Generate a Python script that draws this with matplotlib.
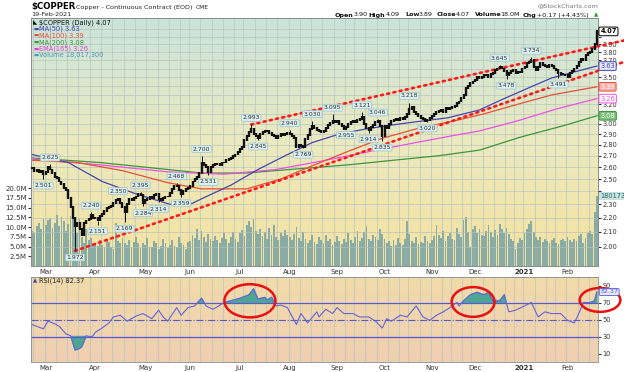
import numpy as np
import pandas as pd
import matplotlib
matplotlib.use('Agg')
import matplotlib.pyplot as plt
from matplotlib.colors import LinearSegmentedColormap
from matplotlib.patches import Ellipse
from matplotlib.transforms import blended_transform_factory
from matplotlib.ticker import FixedLocator, NullLocator, FuncFormatter
from pandas.tseries.holiday import USFederalHolidayCalendar

# daily closes, one list per month (21-Feb-2020 .. 19-Feb-2021)
close_2020_02 = [2.59, 2.57, 2.58, 2.56, 2.57, 2.54]
close_2020_03 = [2.56, 2.60, 2.58, 2.55, 2.52, 2.51, 2.48, 2.46, 2.43, 2.41, 2.35, 2.28, 2.20, 2.14, 2.16,
                 2.12, 2.08, 2.16, 2.18, 2.19, 2.22, 2.20]
close_2020_04 = [2.20, 2.18, 2.21, 2.23, 2.25, 2.27, 2.28, 2.29, 2.31, 2.33, 2.34, 2.31, 2.28, 2.24, 2.30,
                 2.34, 2.33, 2.35, 2.36, 2.38, 2.37, 2.31]
close_2020_05 = [2.33, 2.34, 2.36, 2.35, 2.37, 2.38, 2.34, 2.33, 2.35, 2.36, 2.36, 2.39, 2.42, 2.44, 2.44,
                 2.41, 2.38, 2.40, 2.42, 2.43]
close_2020_06 = [2.44, 2.48, 2.50, 2.52, 2.55, 2.64, 2.62, 2.60, 2.56, 2.60, 2.62, 2.63, 2.63, 2.62, 2.64,
                 2.64, 2.66, 2.67, 2.68, 2.70, 2.71, 2.73]
close_2020_07 = [2.76, 2.78, 2.84, 2.88, 2.92, 2.95, 2.90, 2.88, 2.86, 2.90, 2.92, 2.93, 2.93, 2.91, 2.89,
                 2.88, 2.86, 2.88, 2.90, 2.89, 2.90, 2.91]
close_2020_08 = [2.90, 2.88, 2.86, 2.78, 2.80, 2.79, 2.78, 2.85, 2.89, 2.95, 2.98, 2.96, 2.94, 2.93, 2.92,
                 2.93, 2.96, 2.99, 3.01, 3.03, 3.02]
close_2020_09 = [3.03, 3.00, 2.98, 2.95, 2.97, 3.00, 3.02, 3.03, 3.02, 3.04, 3.05, 3.07, 3.00, 2.96, 2.94,
                 2.97, 2.99, 3.02, 3.03, 2.98, 2.88]
close_2020_10 = [2.98, 2.96, 3.00, 3.03, 3.04, 3.05, 3.04, 3.06, 3.05, 3.07, 3.10, 3.15, 3.17, 3.12, 3.10,
                 3.08, 3.06, 3.05, 3.03, 3.04, 3.06]
close_2020_11 = [3.08, 3.10, 3.12, 3.13, 3.14, 3.12, 3.16, 3.15, 3.16, 3.17, 3.18, 3.21, 3.23, 3.27, 3.30,
                 3.38, 3.40, 3.43, 3.45]
close_2020_12 = [3.47, 3.50, 3.49, 3.50, 3.52, 3.52, 3.50, 3.54, 3.55, 3.58, 3.60, 3.62, 3.60, 3.57, 3.52,
                 3.55, 3.57, 3.58, 3.55, 3.56, 3.56, 3.60]
close_2021_01 = [3.62, 3.67, 3.68, 3.70, 3.62, 3.58, 3.62, 3.67, 3.64, 3.63, 3.62, 3.64, 3.63, 3.60, 3.58,
                 3.55, 3.54, 3.53, 3.52]
close_2021_02 = [3.50, 3.55, 3.57, 3.60, 3.63, 3.68, 3.72, 3.70, 3.76, 3.79, 3.80, 3.84, 3.90, 4.07]

# daily volume, millions
vol_2020_02 = [9.0, 8.5, 10.2, 11.0, 9.5, 12.0]
vol_2020_03 = [10.5, 11.8, 12.3, 9.8, 11.0, 13.0, 10.2, 12.5, 11.5, 9.0, 10.8, 12.8, 14.0, 11.2, 8.5, 12.0,
               7.5, 6.0, 9.5, 6.8, 7.2, 5.5]
vol_2020_04 = [6.0, 5.2, 6.8, 5.5, 4.8, 7.0, 6.2, 5.0, 4.5, 11.0, 6.5, 5.8, 7.2, 6.0, 5.5, 6.8, 4.9, 6.2,
               7.4, 5.8, 4.6, 6.0]
vol_2020_05 = [5.5, 7.2, 5.0, 4.8, 6.5, 5.8, 4.4, 5.2, 7.0, 6.0, 4.6, 5.5, 6.8, 5.2, 4.8, 7.5, 6.0, 5.4,
               4.5, 6.2]
vol_2020_06 = [6.5, 8.0, 7.2, 9.5, 6.8, 9.0, 7.5, 6.2, 8.2, 7.0, 6.4, 7.8, 6.6, 5.8, 7.2, 8.4, 6.9, 6.0,
               7.5, 8.8, 7.0, 6.3]
vol_2020_07 = [8.5, 9.2, 7.8, 10.5, 11.5, 10.0, 12.2, 9.0, 8.2, 9.5, 7.6, 8.8, 7.0, 9.8, 8.0, 10.5, 7.4,
               6.8, 8.6, 7.8, 9.2, 8.0]
vol_2020_08 = [7.5, 6.8, 8.2, 10.0, 7.2, 6.5, 8.8, 7.0, 5.8, 6.6, 7.9, 6.2, 5.6, 7.4, 6.8, 5.9, 8.1, 6.4,
               7.0, 5.5, 6.2]
vol_2020_09 = [7.8, 6.4, 5.6, 7.0, 6.2, 8.4, 6.8, 5.8, 7.5, 9.0, 6.5, 7.2, 8.8, 10.2, 7.0, 6.5, 8.0, 7.4,
               6.6, 9.5, 8.2]
vol_2020_10 = [7.0, 5.8, 6.5, 5.2, 6.8, 5.5, 7.2, 6.0, 5.4, 6.9, 11.5, 8.2, 6.5, 6.0, 7.4, 5.6, 6.2, 5.8,
               7.6, 6.4, 5.9]
vol_2020_11 = [6.8, 7.6, 10.5, 8.0, 7.2, 9.0, 6.5, 7.8, 8.5, 7.0, 6.6, 9.8, 8.2, 7.5, 11.8, 12.5, 8.8,
               5.0, 9.6]
vol_2020_12 = [10.2, 8.5, 9.4, 8.0, 7.6, 9.0, 10.5, 8.8, 7.4, 9.2, 8.0, 10.8, 9.6, 8.4, 9.9, 8.2, 7.0,
               6.5, 4.5, 6.0, 7.2, 6.8]
vol_2021_01 = [8.5, 9.6, 10.8, 11.5, 8.8, 7.5, 6.8, 7.4, 6.2, 7.0, 6.5, 5.8, 6.6, 7.2, 6.0, 5.6, 6.8,
               7.0, 6.4]
vol_2021_02 = [7.5, 6.8, 6.2, 7.0, 6.5, 7.8, 8.2, 6.0, 7.2, 8.4, 9.0, 8.2, 14.0, 18.0]

# last bar
last_open, last_high, last_low, last_close = 3.90, 4.09, 3.89, 4.07
last_chg, last_chg_pct = 0.17, 4.43
last_volume = 18017300

# moving averages (bar index, value)
ma50_idx = [0, 16, 31, 46, 61, 70, 76, 88, 100, 112, 124, 136, 148, 160, 170, 184, 198, 208, 220, 230, 240, 250]
ma50_val = [2.71, 2.64, 2.48, 2.38, 2.30, 2.30, 2.35, 2.45, 2.58, 2.70, 2.82, 2.90, 2.95, 2.99, 3.02, 3.06,
            3.14, 3.25, 3.38, 3.49, 3.56, 3.63]
ma100_idx = [0, 20, 40, 60, 75, 95, 110, 125, 140, 155, 170, 189, 200, 215, 230, 250]
ma100_val = [2.66, 2.64, 2.57, 2.47, 2.42, 2.42, 2.50, 2.62, 2.74, 2.86, 2.95, 3.04, 3.10, 3.20, 3.30, 3.39]
ema165_idx = [0, 30, 60, 85, 108, 130, 150, 170, 185, 198, 215, 232, 250]
ema165_val = [2.67, 2.62, 2.56, 2.54, 2.58, 2.66, 2.74, 2.82, 2.88, 2.93, 3.03, 3.15, 3.26]
ma200_idx = [0, 30, 60, 75, 95, 114, 140, 160, 180, 198, 216, 235, 250]
ma200_val = [2.68, 2.64, 2.58, 2.55, 2.55, 2.58, 2.62, 2.66, 2.70, 2.75, 2.87, 2.98, 3.08]

# RSI(14)
rsi_idx = [0, 3, 5, 7, 10, 12, 15, 17, 18, 19, 21, 22, 24, 26, 27, 28, 31, 34, 36, 39, 42, 46, 49, 53,
           56, 58, 60, 64, 66, 69, 72, 75, 77, 80, 82, 85, 88, 92, 96, 98, 100, 103, 104, 106, 108, 110,
           113, 117, 119, 122, 126, 127, 130, 133, 135, 138, 142, 145, 149, 152, 155, 157, 159, 163, 166,
           170, 173, 176, 179, 182, 185, 188, 189, 191, 194, 197, 200, 202, 204, 207, 209, 211, 214, 218,
           221, 224, 227, 230, 234, 237, 240, 242, 244, 247, 249, 250]
rsi_val = [44, 41, 39, 48, 45, 42, 33, 31, 23, 14, 16, 18, 31, 29, 31, 35, 40, 46, 53, 55, 48, 54, 57, 51,
           61, 53, 48, 64, 55, 64, 66, 75, 66, 62, 65, 70, 72, 75, 79, 86, 74, 76, 73, 76, 66, 67,
           64, 44, 57, 46, 59, 53, 62, 57, 64, 57, 57, 53, 53, 48, 40, 51, 48, 55, 53,
           66, 53, 49, 55, 59, 64, 70, 66, 72, 79, 82, 79, 82, 72, 72, 79, 59, 61, 66,
           70, 53, 59, 57, 57, 49, 46, 57, 70, 70, 72, 82.37]

# swing high / low annotations (bar index, price, 1 = above)
lab_idx = [5, 8, 19, 26, 29, 38, 41, 48, 49, 56, 64, 66, 75, 78, 97, 100, 114, 120, 124, 133, 139, 146,
           149, 153, 155, 167, 175, 207, 210, 221, 233]
lab_val = [2.501, 2.625, 1.972, 2.240, 2.151, 2.350, 2.169, 2.395, 2.284, 2.314, 2.468, 2.359, 2.700,
           2.531, 2.993, 2.845, 2.940, 2.769, 3.030, 3.095, 2.955, 3.121, 2.914, 3.046, 2.835, 3.218,
           3.020, 3.645, 3.478, 3.734, 3.491]
lab_up = [0, 1, 0, 1, 0, 1, 0, 1, 0, 0, 1, 0, 1, 0, 1, 0, 1, 0, 1, 1, 0, 1, 0, 1, 0, 1, 0, 1, 0, 1, 0]

# trendlines (bar index, price)
trend_upper = [(97, 2.993), (262, 3.95)]
trend_lower = [(19, 1.972), (262, 3.68)]

# red circles on the RSI panel (centre index, centre rsi, width in bars, height)
circles = [(96.4, 72, 22.6, 39), (195.2, 70.6, 19, 35), (251.4, 73, 18, 28)]

closes = np.array(close_2020_02 + close_2020_03 + close_2020_04 + close_2020_05 + close_2020_06 +
                  close_2020_07 + close_2020_08 + close_2020_09 + close_2020_10 + close_2020_11 +
                  close_2020_12 + close_2021_01 + close_2021_02)
volume = np.array(vol_2020_02 + vol_2020_03 + vol_2020_04 + vol_2020_05 + vol_2020_06 + vol_2020_07 +
                  vol_2020_08 + vol_2020_09 + vol_2020_10 + vol_2020_11 + vol_2020_12 + vol_2021_01 +
                  vol_2021_02)
n = len(closes)
x = np.arange(n)
opens = np.r_[closes[0], closes[:-1]]
hol = USFederalHolidayCalendar().holidays('2019-01-01', '2021-12-31')
dates = pd.bdate_range(end='2021-02-19', periods=n, freq='C', holidays=hol)

W, H = 624.0, 372.0
L, R = 31, 598
MT, MB = 18, 266
RT, RB = 277, 362
PLO, PHI = 1.876, 4.254
VMAX = 63.8

fig = plt.figure(figsize=(6.24, 3.72), dpi=100, facecolor='white')
plt.rcParams['font.family'] = ['DejaVu Sans']
ax = fig.add_axes([L / W, 1 - MB / H, (R - L) / W, (MB - MT) / H])
axp = ax.twinx()
axr = fig.add_axes([L / W, 1 - RB / H, (R - L) / W, (RB - RT) / H])


def ftext(px, py, s, **kw):
    kw.setdefault('va', 'center')
    fig.text(px / W, 1 - py / H, s, **kw)


def gradient(a, colors):
    cmap = LinearSegmentedColormap.from_list('g', colors)
    a.imshow(np.linspace(0, 1, 200).reshape(-1, 1), cmap=cmap, aspect='auto', origin='lower',
             extent=[0, 1, 0, 1], transform=a.transAxes, zorder=0)


def price_px(p):
    return MT + np.log(PHI / p) / np.log(PHI / PLO) * (MB - MT)


gradient(ax, ['#f5e2a0', '#ebeac0', '#cae4dc'])
gradient(axr, ['#efcfb3', '#f2dbaa'])

week_starts = [i for i in range(1, n) if dates[i].weekday() < dates[i - 1].weekday()]
month_starts = [i for i in range(1, n) if dates[i].month != dates[i - 1].month]
month_labels = ['2021' if dates[i].month == 1 else dates[i].strftime('%b') for i in month_starts]
grid_c = '#b4c2bc'
for a in (ax, axr):
    for i in week_starts:
        a.axvline(i - 0.5, color=grid_c, lw=0.45, zorder=0.5)

# volume
ax.bar(x, volume, width=0.8, color='#8aaca4', zorder=1)
ax.set_ylim(0, VMAX)
vticks = np.arange(2.5, 20.1, 2.5)
ax.yaxis.set_major_locator(FixedLocator(vticks))
ax.yaxis.set_major_formatter(FuncFormatter(lambda v, p: f'{v:.1f}M'))

# value boxes at the right edge (price axis)
boxes = [(last_close, '#000000', '#ffffff', '#000000'), (ma50_val[-1], '#4646b0', '#e4e8fa', '#4646b0'),
         (ma100_val[-1], '#e8503a', '#f6b0a8', '#ffffff'), (ema165_val[-1], '#f050e8', '#ffffff', '#f050e8'),
         (ma200_val[-1], '#3c963c', '#7cc07c', '#ffffff')]
box_px = [price_px(b[0]) for b in boxes] + [MB - volume[-1] / VMAX * (MB - MT)]

# price
axp.set_yscale('log')
axp.set_ylim(PLO, PHI)
pticks = np.round(np.arange(2.0, 4.11, 0.1), 2)
shown = {p: all(abs(price_px(p) - b) > 5.5 for b in box_px) for p in pticks}
axp.yaxis.set_major_locator(FixedLocator(pticks))
axp.yaxis.set_minor_locator(NullLocator())
axp.yaxis.set_major_formatter(FuncFormatter(
    lambda v, p: f'{v:.2f}' if shown.get(round(v, 2), True) else ''))
for p in pticks:
    axp.axhline(p, color=grid_c, lw=0.45, zorder=0)

axp.plot(ma200_idx, ma200_val, color='#3c963c', lw=0.9, zorder=2)
axp.plot(ema165_idx, ema165_val, color='#f050e8', lw=0.9, zorder=2)
axp.plot(ma100_idx, ma100_val, color='#e8503a', lw=0.9, zorder=2)
axp.plot(ma50_idx, ma50_val, color='#4646b0', lw=0.9, zorder=2)

for (i0, p0), (i1, p1) in (trend_upper, trend_lower):
    axp.plot([i0, i1], [p0, p1], color='#ff1a1a', lw=1.9, ls=(0, (0.8, 1.6)),
             dash_capstyle='round', clip_on=False, zorder=3)

lo = np.minimum(opens, closes)
hi = np.maximum(opens, closes)
axp.vlines(x, lo * 0.997, hi * 1.003, color='#111111', lw=1.7, zorder=4)
axp.vlines(n - 1, last_low, last_high, color='#111111', lw=0.7, zorder=4)
for i, v, up in zip(lab_idx, lab_val, lab_up):
    end = hi[i] if up else lo[i]
    axp.vlines(i, min(v, end), max(v, end), color='#111111', lw=0.7, zorder=4)
    axp.annotate(f'{v:.3f}', (i, v), xytext=(0, 3 if up else -3), textcoords='offset points',
                 ha='center', va='bottom' if up else 'top', fontsize=4.4, color='#333333', zorder=6,
                 bbox=dict(boxstyle='round,pad=0.15', fc='#dbeff0', ec='#9cc4cc', lw=0.5))

ax.set_xlim(-0.5, n - 0.5)
axp.set_xlim(-0.5, n - 0.5)
axr.set_xlim(-0.5, n - 0.5)

# RSI
axr.set_ylim(0, 100)
rsi_idx_a = np.array(rsi_idx, dtype=float)
rsi_val_a = np.array(rsi_val, dtype=float)
axr.fill_between(rsi_idx_a, rsi_val_a, 70, where=rsi_val_a > 70, interpolate=True, color='#4fa594', zorder=2)
axr.fill_between(rsi_idx_a, rsi_val_a, 30, where=rsi_val_a < 30, interpolate=True, color='#4fa594', zorder=2)
axr.axhline(70, color='#5a5ad0', lw=0.9, zorder=2)
axr.axhline(30, color='#5a5ad0', lw=0.9, zorder=2)
axr.axhline(50, color='#5a5ad0', lw=0.8, ls='-.', zorder=2)
axr.plot(rsi_idx_a, rsi_val_a, color='#6464d8', lw=0.8, zorder=3)
for cx, cy, w, h in circles:
    axr.add_patch(Ellipse((cx, cy), w, h, fill=False, ec='#e81010', lw=1.8, clip_on=False, zorder=5))
axr.yaxis.tick_right()
axr.yaxis.set_major_locator(FixedLocator([10, 30, 50, 70, 90]))

# ticks / spines
for a in (ax, axr):
    a.set_xticks(month_starts)
    a.set_xticklabels(month_labels)
    a.tick_params(axis='x', length=0, labelsize=5, pad=2, colors='#333333')
    for t in a.get_xticklabels():
        if t.get_text() == '2021':
            t.set_fontweight('bold')
ax.tick_params(axis='y', labelsize=5, pad=1, length=2, colors='#333333')
axp.tick_params(axis='y', labelsize=4.8, pad=1, length=2, colors='#333333')
axr.tick_params(axis='y', labelsize=4.8, pad=1, length=2, colors='#333333')
for a in (ax, axp, axr):
    for s in a.spines.values():
        s.set_color('#8a8a8a')
        s.set_linewidth(0.6)

bt = blended_transform_factory(axp.transAxes, axp.transData)
for v, ec, fc, tc in boxes:
    axp.text(1.004, v, f'{v:.2f}', transform=bt, ha='left', va='center', fontsize=4.8, color=tc,
             fontweight='bold' if v == last_close else 'normal', zorder=10, clip_on=False,
             bbox=dict(boxstyle='round,pad=0.2', fc=fc, ec=ec, lw=0.7))
vt = blended_transform_factory(ax.transAxes, ax.transData)
ax.text(1.004, volume[-1], f'{last_volume}', transform=vt, ha='left', va='center', fontsize=4.8,
        color='#2a6a70', zorder=10, clip_on=False,
        bbox=dict(boxstyle='square,pad=0.15', fc='#c8e4dc', ec='none'))
rt = blended_transform_factory(axr.transAxes, axr.transData)
axr.text(1.004, rsi_val[-1], f'{rsi_val[-1]:.2f}', transform=rt, ha='left', va='center', fontsize=4.6,
         color='#5a5ad0', zorder=10, clip_on=False,
         bbox=dict(boxstyle='round,pad=0.15', fc='#e4e8fa', ec='#5a5ad0', lw=0.6))

# header
ftext(31, 7, '$COPPER', fontsize=6.2, fontweight='bold')
ftext(76, 7.5, 'Copper - Continuous Contract (EOD)', fontsize=4.6, color='#222222')
ftext(196, 7.5, 'CME', fontsize=4.2, color='#222222')
ftext(31, 15, dates[-1].strftime('%d-%b-%Y'), fontsize=4.6, color='#222222')
ftext(598, 6, '@StockCharts.com', fontsize=4.6, color='#777777', ha='right')
hdr = [('Open', True, 335), (f'{last_open:.2f}', False, 354), ('High', True, 368), (f'{last_high:.2f}', False, 386),
       ('Low', True, 405), (f'{last_low:.2f}', False, 419), ('Close', True, 437), (f'{last_close:.2f}', False, 456),
       ('Volume', True, 475), (f'{last_volume / 1e6:.1f}M', False, 500), ('Chg', True, 523),
       (f'+{last_chg:.2f} (+{last_chg_pct:.2f}%)', False, 537)]
for s, b, px in hdr:
    ftext(px, 15, s, fontsize=4.6, fontweight='bold' if b else 'normal', color='#111111')
ftext(594, 15, '▲', fontsize=4, color='#2a9a2a')

# legend
legend = [('$COPPER (Daily) ' + f'{last_close:.2f}', '#111111'), (f'MA(50) {ma50_val[-1]:.2f}', '#4646b0'),
          (f'MA(100) {ma100_val[-1]:.2f}', '#e8503a'), (f'MA(200) {ma200_val[-1]:.2f}', '#3c963c'),
          (f'EMA(165) {ema165_val[-1]:.2f}', '#e040d8'), (f'Volume {last_volume:,}', '#4a9ab8')]
for k, (s, c) in enumerate(legend):
    py = 22.5 + k * 6.6
    ftext(33, py, '▬' if k else '◣', fontsize=4, color=c)
    ftext(39, py, s, fontsize=4.8, color=c)
ftext(33, 280.5, '▲', fontsize=4, color='#4646b0')
ftext(39, 280.5, f'RSI(14) {rsi_val[-1]:.2f}', fontsize=4.8, color='#222222')

fig.savefig('out.png', dpi=100, facecolor='white')
